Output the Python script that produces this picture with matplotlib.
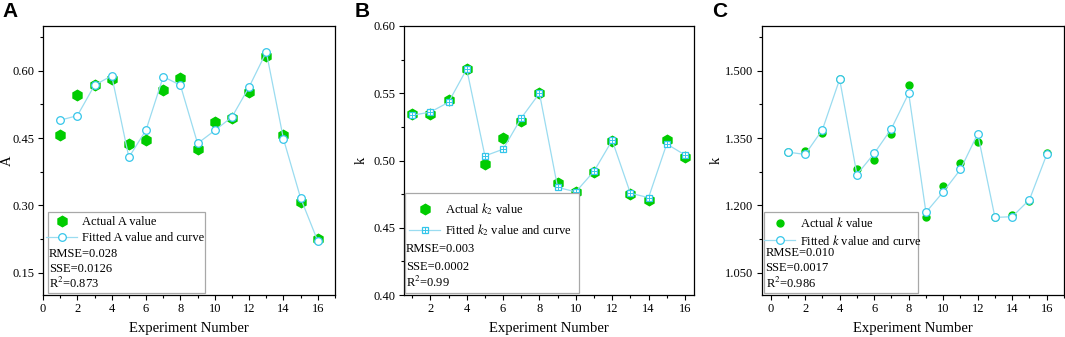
import matplotlib
matplotlib.use("Agg")
import matplotlib.pyplot as plt
import matplotlib.patches as patches
from matplotlib.ticker import MultipleLocator, FormatStrFormatter
from matplotlib.legend_handler import HandlerTuple

plt.rcParams['font.family'] = ['Liberation Serif', 'DejaVu Serif']
plt.rcParams['mathtext.fontset'] = 'stix'

experiments = list(range(1, 17))

# panel A: amplitude A
a_actual = [0.456, 0.546, 0.568, 0.581, 0.437, 0.445, 0.557, 0.583,
            0.426, 0.485, 0.494, 0.552, 0.634, 0.457, 0.308, 0.224]
a_fitted = [0.490, 0.500, 0.568, 0.589, 0.407, 0.468, 0.587, 0.568,
            0.438, 0.467, 0.497, 0.564, 0.642, 0.448, 0.316, 0.220]
a_stats = ["RMSE=0.028", "SSE=0.0126", "R$^2$=0.873"]

# panel B: k2
k2_actual = [0.5346, 0.5344, 0.545, 0.568, 0.4975, 0.517, 0.529, 0.550,
             0.4831, 0.4767, 0.4918, 0.5148, 0.475, 0.4707, 0.5155, 0.5024]
k2_fitted = [0.5336, 0.536, 0.5433, 0.568, 0.5034, 0.5084, 0.5316, 0.550,
             0.480, 0.4767, 0.492, 0.515, 0.4757, 0.4724, 0.5123, 0.5041]
k2_stats = ["RMSE=0.003", "SSE=0.0002", "R$^2$=0.99"]

# panel C: k
k_actual = [1.319, 1.3216, 1.362, 1.481, 1.280, 1.3007, 1.359, 1.468,
            1.1738, 1.2425, 1.2947, 1.341, 1.173, 1.1776, 1.209, 1.317]
k_fitted = [1.3187, 1.3135, 1.3686, 1.4813, 1.2687, 1.3157, 1.371, 1.450,
            1.1843, 1.230, 1.280, 1.3597, 1.173, 1.1747, 1.2127, 1.3135]
k_stats = ["RMSE=0.010", "SSE=0.0017", "R$^2$=0.986"]

GREEN = '#00CC00'
LINE_BLUE = '#9ADCF0'
EDGE_BLUE = '#35C6EA'
FS = 9

fig = plt.figure(figsize=(10.65, 3.37), dpi=100)

H = 269 / 337
BOT = 42 / 337
ax_a = fig.add_axes([43 / 1065, BOT, 292 / 1065, H])
ax_b = fig.add_axes([404 / 1065, BOT, 290 / 1065, H])
ax_c = fig.add_axes([762 / 1065, BOT, 302 / 1065, H])


def style_axes(ax, ylabel, ylabel_x):
    for s in ax.spines.values():
        s.set_linewidth(0.9)
    ax.tick_params(which='both', direction='out', top=False, right=False,
                   labelsize=9, width=0.8)
    ax.tick_params(which='major', length=3.5, pad=2.5)
    ax.tick_params(which='minor', length=2)
    ax.xaxis.set_major_locator(MultipleLocator(2))
    ax.xaxis.set_minor_locator(MultipleLocator(1))
    ax.set_xlabel("Experiment Number", fontsize=10.5, labelpad=5)
    ax.set_ylabel(ylabel, fontsize=10.5)
    ax.yaxis.set_label_coords(ylabel_x, 0.5)


def stats_box(ax, box, handles, labels, stats, stat_ys, handle_x, spacing, pad):
    x0, y0, x1, y1 = box
    ax.add_patch(patches.Rectangle((x0, y0), x1 - x0, y1 - y0, transform=ax.transAxes,
                                   facecolor='white', edgecolor='#A8A8A8', lw=0.9,
                                   zorder=4, clip_on=False))
    leg = ax.legend(handles, labels, loc='upper left', bbox_to_anchor=(handle_x, y1),
                    frameon=False, fontsize=FS, handlelength=2.5, handletextpad=0.4,
                    borderaxespad=0, borderpad=pad, labelspacing=spacing,
                    numpoints=1, handler_map={tuple: HandlerTuple(ndivide=1)})
    leg.set_zorder(6)
    for yy, s in zip(stat_ys, stats):
        ax.text(x0 + 0.004, yy, s, transform=ax.transAxes, fontsize=FS,
                va='baseline', ha='left', zorder=6)


# ---------- A ----------
ax = ax_a
ax.plot(experiments, a_actual, linestyle='none', marker='h', ms=7.5, color=GREEN,
        mec=GREEN, zorder=2)
ax.plot(experiments, a_fitted, color=LINE_BLUE, lw=0.9, marker='o', ms=5.5,
        mfc='white', mec=EDGE_BLUE, mew=0.9, zorder=3)
ax.set_xlim(0, 17)
ax.set_ylim(0.10, 0.70)
style_axes(ax, "A", -0.101)
ax.yaxis.set_major_locator(MultipleLocator(0.15))
ax.yaxis.set_minor_locator(MultipleLocator(0.075))
ax.yaxis.set_major_formatter(FormatStrFormatter('%.2f'))
h1 = plt.Line2D([], [], linestyle='none', marker='h', ms=7.5, color=GREEN)
h2 = plt.Line2D([], [], color=LINE_BLUE, lw=0.9, marker='o', ms=5.5,
                mfc='white', mec=EDGE_BLUE, mew=0.9)
stats_box(ax, (0.016, 0.009, 0.554, 0.309), [h1, h2],
          ["Actual A value", "Fitted A value and curve"], a_stats,
          [0.142, 0.087, 0.027], -0.004, 0.3, 0.35)

# ---------- B ----------
ax = ax_b
ax.plot(experiments, k2_actual, linestyle='none', marker='h', ms=7.5, color=GREEN,
        mec=GREEN, zorder=2)
ax.plot(experiments, k2_fitted, color=LINE_BLUE, lw=0.9, marker='s', ms=5,
        mfc='white', mec=EDGE_BLUE, mew=0.9, zorder=3)
ax.plot(experiments, k2_fitted, linestyle='none', marker='+', ms=4.2,
        mec=EDGE_BLUE, mew=0.7, zorder=3.5)
ax.set_xlim(0.55, 16.5)
ax.set_ylim(0.40, 0.60)
style_axes(ax, "k", -0.124)
ax.yaxis.set_major_locator(MultipleLocator(0.05))
ax.yaxis.set_minor_locator(MultipleLocator(0.025))
ax.yaxis.set_major_formatter(FormatStrFormatter('%.2f'))
h1 = plt.Line2D([], [], linestyle='none', marker='h', ms=7.5, color=GREEN)
h2a = plt.Line2D([], [], color=LINE_BLUE, lw=0.9, marker='s', ms=5,
                 mfc='white', mec=EDGE_BLUE, mew=0.9)
h2b = plt.Line2D([], [], linestyle='none', marker='+', ms=4.2, mec=EDGE_BLUE, mew=0.7)
stats_box(ax, (0.002, 0.006, 0.603, 0.380), [h1, (h2a, h2b)],
          ["Actual $k_2$ value", "Fitted $k_2$ value and curve"], k2_stats,
          [0.160, 0.094, 0.029], -0.01, 0.45, 0.65)

# ---------- C ----------
ax = ax_c
ax.plot(experiments, k_actual, linestyle='none', marker='o', ms=5, color=GREEN,
        mec=GREEN, zorder=2)
ax.plot(experiments, k_fitted, color=LINE_BLUE, lw=0.9, marker='o', ms=5.5,
        mfc='white', mec=EDGE_BLUE, mew=0.9, zorder=3)
ax.set_xlim(-0.5, 17)
ax.set_ylim(1.0, 1.6)
style_axes(ax, "k", -0.129)
ax.yaxis.set_major_locator(MultipleLocator(0.15))
ax.yaxis.set_minor_locator(MultipleLocator(0.075))
ax.yaxis.set_major_formatter(FormatStrFormatter('%.3f'))
h1 = plt.Line2D([], [], linestyle='none', marker='o', ms=5, color=GREEN)
h2 = plt.Line2D([], [], color=LINE_BLUE, lw=0.9, marker='o', ms=5.5,
                mfc='white', mec=EDGE_BLUE, mew=0.9)
stats_box(ax, (0.008, 0.006, 0.517, 0.310), [h1, h2],
          ["Actual $k$ value", "Fitted $k$ value and curve"], k_stats,
          [0.145, 0.089, 0.027], -0.008, 0.3, 0.35)

# panel letters
for lx, letter in [(2, "A"), (355, "B"), (712, "C")]:
    fig.text(lx / 1065, 1 - 2 / 337, letter, fontsize=15, fontweight='bold',
             family='Liberation Sans', ha='left', va='top')

fig.savefig("out.png", dpi=100)
